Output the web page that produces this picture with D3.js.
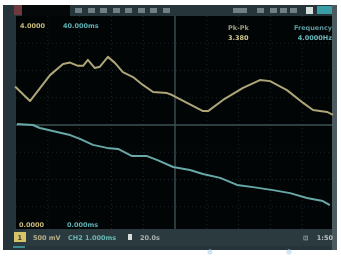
<!DOCTYPE html>
<meta charset="utf-8">
<script src="https://d3js.org/d3.v7.min.js"></script>
<style>
  body { margin: 0; background: #fff; }
  svg { display: block; filter: blur(0.45px); }
  text { font-family: "DejaVu Sans", sans-serif; font-weight: bold; }
</style>
<div id="scope"></div>
<script>
// trace samples, time and volts in screen divisions (10 x 8 grid)
var ch1Time = [-5.03, -4.56, -3.93, -3.52, -3.30, -3.05, -2.89, -2.74, -2.52, -2.36, -2.11, -1.89, -1.64, -1.32, -1.01, -0.69, -0.25, -0.09, 0.38, 0.88, 1.04, 1.51, 2.14, 2.67, 2.99, 3.52, 4.03, 4.34, 4.78, 4.97];
var ch1Volt = [1.41, 0.88, 1.83, 2.24, 2.29, 2.17, 2.17, 2.39, 2.09, 2.14, 2.50, 2.28, 1.94, 1.76, 1.47, 1.21, 1.17, 1.10, 0.81, 0.51, 0.51, 0.92, 1.36, 1.65, 1.61, 1.28, 0.81, 0.55, 0.48, 0.37];
var ch2Time = [-4.97, -4.47, -4.25, -3.71, -3.30, -2.99, -2.58, -2.14, -1.79, -1.35, -0.88, -0.57, -0.06, 0.47, 0.88, 1.42, 1.95, 2.45, 3.08, 3.62, 4.15, 4.65, 4.87];
var ch2Volt = [0.04, 0.00, -0.11, -0.26, -0.37, -0.51, -0.73, -0.84, -0.88, -1.14, -1.14, -1.28, -1.54, -1.65, -1.80, -1.94, -2.20, -2.28, -2.39, -2.50, -2.68, -2.79, -2.94];

var topLeftLabels = ["4.0000", "40.000ms"];
var bottomLeftLabels = ["0.0000", "0.000ms"];
var measNames = ["Pk-Pk", "Frequency"];
var measValues = ["3.380", "4.0000Hz"];
var statusLabels = ["500 mV", "CH2 1.000ms", "20.0s"];

var W = 341, H = 258;
var screen = {x0: 16, x1: 332, y0: 16, y1: 229};

var svg = d3.select("#scope").append("svg")
  .attr("width", W).attr("height", H);

// device frame
svg.append("rect").attr("x", 3).attr("y", 5).attr("width", 334).attr("height", 245).attr("fill", "#24343a");
svg.append("rect").attr("x", 332).attr("y", 5).attr("width", 5).attr("height", 245).attr("fill", "#4a5a5e");

// top bar
svg.append("rect").attr("x", 14).attr("y", 5).attr("width", 318).attr("height", 11).attr("fill", "#25353a");
svg.append("rect").attr("x", 14).attr("y", 5).attr("width", 8).attr("height", 10).attr("fill", "#6e3a3e");
svg.append("rect").attr("x", 22).attr("y", 5).attr("width", 48).attr("height", 11).attr("fill", "#050808");
var chips = [75, 88, 100, 113, 125, 138, 150, 163, 233, 257, 270, 280, 290];
svg.selectAll("rect.chip").data(chips).enter().append("rect")
  .attr("class", "chip")
  .attr("x", function(d) { return d; }).attr("y", 8)
  .attr("width", function(d) { return d == 233 ? 14 : 7; }).attr("height", 5)
  .attr("fill", "#6f7f84");
svg.append("rect").attr("x", 306).attr("y", 7).attr("width", 7).attr("height", 7).attr("fill", "#d6dede");
svg.append("rect").attr("x", 317).attr("y", 6).attr("width", 15).attr("height", 8).attr("fill", "#3a9ea6");

// screen
svg.append("rect").attr("x", screen.x0).attr("y", screen.y0)
  .attr("width", screen.x1 - screen.x0).attr("height", screen.y1 - screen.y0)
  .attr("fill", "#020505");

// status bar
svg.append("rect").attr("x", 14).attr("y", 229).attr("width", 318).attr("height", 17).attr("fill", "#2a3a3f");
svg.append("rect").attr("x", 14).attr("y", 232).attr("width", 12).attr("height", 10).attr("fill", "#d4c46a");
svg.append("rect").attr("x", 128).attr("y", 234).attr("width", 4).attr("height", 6).attr("fill", "#d8dcdc");
svg.append("rect").attr("x", 13).attr("y", 246).attr("width", 12).attr("height", 2).attr("fill", "#3c8a8c");

var x = d3.scaleLinear().domain([-5, 5]).range([16, 334]);
var y = d3.scaleLinear().domain([-4, 4]).range([234, 16]);

var grid = svg.append("g");
grid.selectAll("line.v").data(d3.range(-4, 5)).enter().append("line")
  .attr("x1", function(d) { return x(d); }).attr("x2", function(d) { return x(d); })
  .attr("y1", screen.y0).attr("y2", screen.y1)
  .attr("stroke", function(d) { return d == 0 ? "#3c5256" : "#1a2628"; })
  .attr("stroke-width", function(d) { return d == 0 ? 1.4 : 1; })
  .attr("stroke-dasharray", function(d) { return d == 0 ? null : "1,3"; });
grid.selectAll("line.h").data(d3.range(-3, 4)).enter().append("line")
  .attr("y1", function(d) { return y(d); }).attr("y2", function(d) { return y(d); })
  .attr("x1", screen.x0).attr("x2", screen.x1)
  .attr("stroke", function(d) { return d == 0 ? "#3c5256" : "#1a2628"; })
  .attr("stroke-width", function(d) { return d == 0 ? 1.4 : 1; })
  .attr("stroke-dasharray", function(d) { return d == 0 ? null : "1,3"; });

// traces
var line = d3.line()
  .x(function(d) { return x(d[0]); })
  .y(function(d) { return y(d[1]); });
svg.append("path").datum(d3.zip(ch1Time, ch1Volt))
  .attr("d", line).attr("fill", "none")
  .attr("stroke", "#aea679").attr("stroke-width", 2).attr("stroke-linejoin", "round");
svg.append("path").datum(d3.zip(ch2Time, ch2Volt))
  .attr("d", line).attr("fill", "none")
  .attr("stroke", "#68a8a8").attr("stroke-width", 2).attr("stroke-linejoin", "round");

// readouts
var txt = svg.append("g").attr("font-size", 6.5);
txt.append("text").attr("x", 20).attr("y", 28).attr("fill", "#c8b878").text(topLeftLabels[0]);
txt.append("text").attr("x", 63).attr("y", 28).attr("fill", "#5fb0b4").text(topLeftLabels[1]);
txt.append("text").attr("x", 19).attr("y", 227).attr("fill", "#c8b878").text(bottomLeftLabels[0]);
txt.append("text").attr("x", 67).attr("y", 227).attr("fill", "#5fb0b4").text(bottomLeftLabels[1]);
txt.append("text").attr("x", 228).attr("y", 30).attr("fill", "#9a9a80").text(measNames[0]);
txt.append("text").attr("x", 228).attr("y", 40).attr("fill", "#d2c890").text(measValues[0]);
txt.append("text").attr("x", 332).attr("y", 30).attr("text-anchor", "end").attr("fill", "#5a9a9e").text(measNames[1]);
txt.append("text").attr("x", 332).attr("y", 40).attr("text-anchor", "end").attr("fill", "#6ab8bc").text(measValues[1]);

// status bar texts
txt.append("text").attr("x", 17.5).attr("y", 240).attr("fill", "#3a3520").text("1");
txt.append("text").attr("x", 33).attr("y", 240).attr("fill", "#b6ae88").text(statusLabels[0]);
txt.append("text").attr("x", 68).attr("y", 240).attr("fill", "#6ab4b4").text(statusLabels[1]);
txt.append("text").attr("x", 140).attr("y", 240).attr("fill", "#a8b0b0").text(statusLabels[2]);
txt.append("text").attr("x", 303).attr("y", 240).attr("fill", "#98a4a4").text("⊡");
txt.append("text").attr("x", 333).attr("y", 240).attr("text-anchor", "end").attr("fill", "#b8c0c0").text("1:50");

// markers below the screen
svg.selectAll("circle.mk").data([210, 289]).enter().append("circle")
  .attr("cx", function(d) { return d; }).attr("cy", 252).attr("r", 2.6)
  .attr("fill", "#cfe6f2");
</script>
